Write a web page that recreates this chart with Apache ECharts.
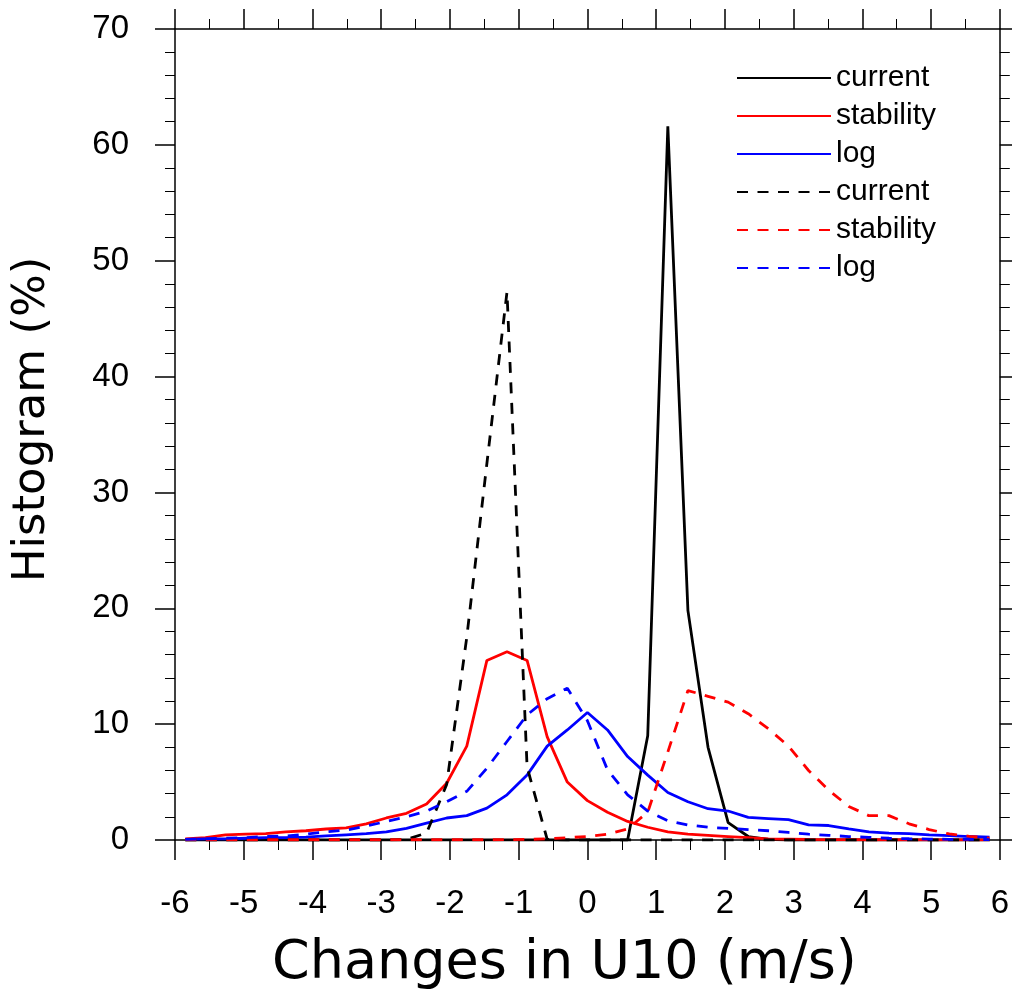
<!DOCTYPE html>
<html>
<head>
<meta charset="utf-8">
<script src="https://cdn.jsdelivr.net/npm/echarts@6/dist/echarts.min.js"></script>
<style>html,body{margin:0;padding:0;background:#fff}#c{width:1012px;height:996px}</style>
</head>
<body>
<div id="c"></div>
<script>
// bin centres (m/s)
var binCenters = [-5.85,-5.5575,-5.265,-4.9725,-4.68,-4.3875,-4.095,-3.8025,-3.51,-3.2175,-2.925,-2.6325,-2.34,-2.0475,-1.755,-1.4625,-1.17,-0.8775,-0.585,-0.2925,0,0.2925,0.585,0.8775,1.17,1.4625,1.755,2.0475,2.34,2.6325,2.925,3.2175,3.51,3.8025,4.095,4.3875,4.68,4.9725,5.265,5.5575,5.85];

// solid lines
var currentSolid   = [0,0,0,0,0,0,0,0,0,0,0,0,0,0,0,0,0,0,0,0,0,0,0,9.0,61.6,19.8,8.0,1.5,0.3,0.05,0,0,0,0,0,0,0,0,0,0,0];
var stabilitySolid = [0.1,0.2,0.45,0.5,0.55,0.7,0.8,0.95,1.05,1.4,1.9,2.3,3.1,4.9,8.1,15.5,16.25,15.5,8.9,5.0,3.4,2.4,1.6,1.1,0.7,0.5,0.4,0.3,0.2,0.1,0.08,0.05,0.04,0.03,0.02,0.02,0.01,0.01,0.01,0.01,0.01];
var logSolid       = [0.05,0.1,0.1,0.15,0.2,0.2,0.25,0.35,0.45,0.55,0.7,1.0,1.45,1.9,2.1,2.75,3.9,5.6,8.1,9.5,11.0,9.5,7.2,5.6,4.1,3.3,2.7,2.5,1.95,1.85,1.75,1.3,1.25,0.97,0.7,0.6,0.55,0.45,0.37,0.3,0.25];

// dashed lines
var currentDashed   = [0,0,0,0,0,0,0,0,0,0,0,0.05,0.6,4.8,17.5,32.5,47.3,6.3,0.05,0,0,0,0,0,0,0,0,0,0,0,0,0,0,0,0,0,0,0,0,0,0];
var stabilityDashed = [0.02,0.02,0.02,0.02,0.02,0.02,0.02,0.02,0.02,0.02,0.02,0.02,0.02,0.02,0.02,0.02,0.03,0.05,0.1,0.2,0.3,0.5,0.95,2.4,7.6,12.9,12.4,11.9,10.9,9.6,8.1,6.0,4.3,2.9,2.1,2.1,1.4,0.9,0.52,0.32,0.17];
var logDashed       = [0.05,0.1,0.15,0.2,0.3,0.35,0.5,0.7,0.85,1.2,1.6,2.0,2.5,3.3,4.2,6.2,8.5,10.8,12.2,13.1,10.3,6.05,3.9,2.5,1.66,1.3,1.1,1.0,0.9,0.8,0.65,0.5,0.4,0.3,0.23,0.15,0.11,0.08,0.06,0.05,0.04];

var legendNames = ['current','stability','log','current ','stability ','log '];
var xTitle = 'Changes in U10 (m/s)';
var yTitle = 'Histogram (%)';

function pairs(arr){ return binCenters.map(function(x,i){ return [x, arr[i]]; }); }
function mk(name, arr, color, dashed){
  return {
    name: name, type: 'line', data: pairs(arr), symbol: 'none', showSymbol: false,
    lineStyle: { color: color, width: 2.8, type: dashed ? [11, 9.5] : 'solid' },
    itemStyle: { color: color, opacity: 0 }, animation: false, z: 3
  };
}

var tickCommon = {
  axisLine: { show: true, onZero: false, lineStyle: { color: '#000', width: 1.5 } },
  axisTick: { show: true, inside: false, length: 20, lineStyle: { color: '#000', width: 1.5 } },
  minorTick: { show: true, length: 10, lineStyle: { color: '#000', width: 1 } },
  splitLine: { show: false }, minorSplitLine: { show: false }
};
function ax(extra){ var o = JSON.parse(JSON.stringify(tickCommon)); for (var k in extra) o[k] = extra[k]; return o; }

var chart = echarts.init(document.getElementById('c'), null, { renderer: 'canvas' });
chart.setOption({
  backgroundColor: '#fff',
  animation: false,
  grid: { left: 175, right: 12, top: 29, bottom: 154, containLabel: false },
  xAxis: [
    ax({ type: 'value', min: -6, max: 6, interval: 1, position: 'bottom',
      minorTick: { show: true, splitNumber: 2, length: 10, lineStyle: { color: '#000', width: 1 } },
      axisLabel: { margin: 47, fontSize: 33, color: '#000', fontFamily: 'Liberation Sans' },
      name: xTitle, nameLocation: 'middle', nameGap: 97,
      nameTextStyle: { fontSize: 54, color: '#000', fontFamily: 'DejaVu Sans', padding: [0, 46, 0, 0] } }),
    ax({ type: 'value', min: -6, max: 6, interval: 1, position: 'top',
      minorTick: { show: true, splitNumber: 2, length: 10, lineStyle: { color: '#000', width: 1 } },
      axisLabel: { show: false } })
  ],
  yAxis: [
    ax({ type: 'value', min: 0, max: 70, interval: 10, position: 'left',
      minorTick: { show: true, splitNumber: 5, length: 10, lineStyle: { color: '#000', width: 1 } },
      axisLabel: { margin: 46, fontSize: 33, color: '#000', fontFamily: 'Liberation Sans' },
      name: yTitle, nameLocation: 'middle', nameGap: 120, nameRotate: 90,
      nameTextStyle: { fontSize: 45, color: '#000', fontFamily: 'DejaVu Sans', padding: [0, 0, 0, 30] } }),
    ax({ type: 'value', min: 0, max: 70, interval: 10, position: 'right',
      minorTick: { show: true, splitNumber: 5, length: 10, lineStyle: { color: '#000', width: 1 } },
      axisLabel: { show: false } })
  ],
  legend: {
    data: legendNames, orient: 'vertical', left: 731, top: 58,
    itemWidth: 94, itemHeight: 14, itemGap: 8,
    itemStyle: { opacity: 0 },
    textStyle: { fontSize: 30, lineHeight: 30, color: '#000', fontFamily: 'Liberation Sans' },
    formatter: function(n){ return n.trim(); }
  },
  series: [
    mk('current', currentSolid, '#000000', false),
    mk('stability', stabilitySolid, '#ff0000', false),
    mk('log', logSolid, '#0000ff', false),
    mk('current ', currentDashed, '#000000', true),
    mk('stability ', stabilityDashed, '#ff0000', true),
    mk('log ', logDashed, '#0000ff', true)
  ]
});
</script>
</body>
</html>
